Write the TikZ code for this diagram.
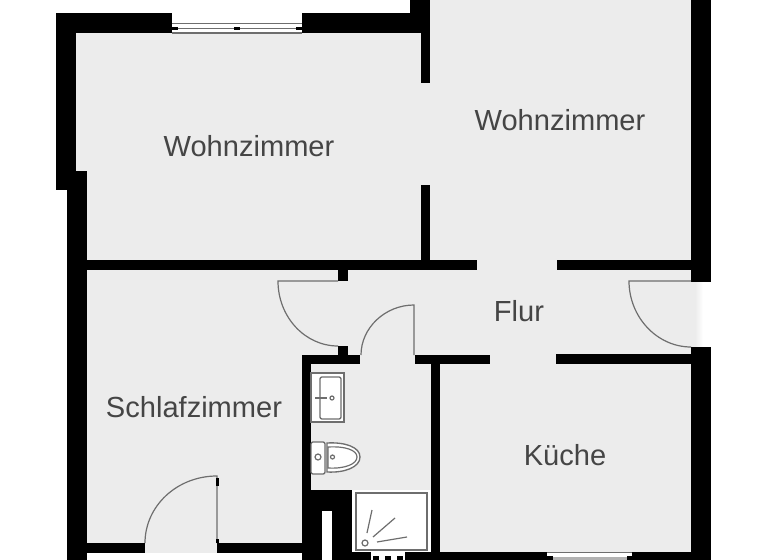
\documentclass[tikz,border=0pt]{standalone}
\usepackage{fontspec}
\setmainfont{Liberation Sans}
\definecolor{floorgray}{HTML}{ECECEC}
\definecolor{labelgray}{HTML}{454545}
\definecolor{linegray}{HTML}{6E6E6E}
\tikzset{
    floor/.style={fill=floorgray},
    wall/.style={fill=black},
    fixture/.style={draw=linegray, line width=1pt, fill=white},
    doorline/.style={draw=linegray, line width=0.9pt},
    roomlabel/.style={text=labelgray, inner sep=0pt, font=\fontsize{21.8}{26}\selectfont}
}
\begin{document}
\begin{tikzpicture}[x=0.75pt, y=-0.75pt]
    \useasboundingbox (0,0) rectangle (768,560);
    \fill[floor] (76,33) rectangle (430,270);
    \fill[floor] (430,0) rectangle (695,282);
    \fill[floor] (87,260) rectangle (302,553);
    \fill[floor] (302,270) rectangle (695,364);
    \fill[floor] (311,364) rectangle (431,490);
    \fill[floor] (440,364) rectangle (691,552);
    \shade[left color=floorgray, right color=white] (695,282) rectangle (703,347);

    \fill[wall] (56,13) rectangle (172,33);
    \fill[wall] (302,13) rectangle (430,33);
    \fill[wall] (410,0) rectangle (430,13);
    \fill[wall] (421,33) rectangle (430,83);
    \fill[wall] (421,185) rectangle (430,265);
    \fill[wall] (56,13) rectangle (76,190);
    \fill[wall] (67,171) rectangle (87,560);
    \fill[wall] (87,260) rectangle (477,270);
    \fill[wall] (338,270) rectangle (348,281);
    \fill[wall] (338,346) rectangle (348,356);
    \fill[wall] (302,355) rectangle (360,364);
    \fill[wall] (415,355) rectangle (490,364);
    \fill[wall] (431,364) rectangle (440,560);
    \fill[wall] (302,355) rectangle (311,560);
    \fill[wall] (311,490) rectangle (352,560);
    \fill[white] (322,511) rectangle (332,560);
    \fill[wall] (87,543) rectangle (145,553);
    \fill[wall] (217,543) rectangle (302,553);
    \fill[wall] (352,552) rectangle (371,560);
    \fill[wall] (405,552) rectangle (547,560);
    \fill[wall] (632,552) rectangle (711,560);
    \fill[wall] (691,0) rectangle (711,282);
    \fill[wall] (691,347) rectangle (711,560);
    \fill[wall] (557,260) rectangle (691,270);
    \fill[wall] (556,354) rectangle (691,364);

    \draw[doorline] (338,281) -- (278,281) .. controls (278,317) and (305,346) .. (338,346);
    \draw[doorline] (414,355) -- (414,305) .. controls (385,305) and (361,328) .. (361,355);
    \draw[doorline] (217,543) -- (217,476) .. controls (177,476) and (145,506) .. (145,543);
    \draw[doorline] (691,281) -- (629,281) .. controls (629,317) and (657,347) .. (691,347);
    \fill[wall] (216,478) rectangle (218.5,486);
    \fill[wall] (216,539) rectangle (218.5,543);

    \draw[doorline] (172,23.5) -- (302,23.5);
    \draw[doorline] (172,28.5) -- (302,28.5);
    \draw[doorline] (172,33) -- (302,33);
    \foreach \wx in {172,234,296} {
        \fill[wall] (\wx,27) rectangle ++(6,3);
    }
    \fill[white] (547,552) rectangle (632,557);
    \fill[gray!60] (547,557) rectangle (632,560);
    \draw[doorline] (547,552.5) -- (632,552.5);
    \fill[wall] (547,556) rectangle (553,560);
    \fill[wall] (627,556) rectangle (632,560);
    \fill[white] (371,552) rectangle (405,560);
    \foreach \wx in {373,385,397} {
        \fill[wall] (\wx,556) rectangle ++(6,4);
    }

    \fill[white] (352,490) rectangle (431,552);
    \draw[doorline] (356,493) rectangle (427,550);
    \draw[doorline] (372,510) -- (367,533);
    \draw[doorline] (395,518) -- (373,537);
    \draw[doorline] (407,537) -- (377,542);
    \draw[doorline] (365,543) circle (3);

    \draw[fixture] (311,373) rectangle (344,422);
    \draw[fixture, rounded corners=1.5pt] (320,377) rectangle (341,419);
    \draw[doorline] (315,398) -- (327,398);
    \draw[doorline] (332,398) circle (2);

    \draw[fixture, rounded corners=1.5pt] (311,442) rectangle (325,474);
    \draw[doorline] (318,457) circle (3);
    \draw[fixture] (327,443) .. controls (345,442) and (360,447) .. (360,457) .. controls (360,467) and (345,473) .. (327,472) -- cycle;
    \draw[doorline] (328,447) .. controls (345,446) and (357,450) .. (357,457) .. controls (357,464) and (345,469) .. (328,468) -- cycle;
    \draw[doorline] (332.5,457) circle (2);

    \node[roomlabel] (wohnzimmerleft) at (249,146) {Wohnzimmer};
    \node[roomlabel] (wohnzimmerright) at (560,120) {Wohnzimmer};
    \node[roomlabel] (flur) at (519,311) {Flur};
    \node[roomlabel] (schlafzimmer) at (194,407) {Schlafzimmer};
    \node[roomlabel] (kueche) at (565,455) {Küche};
\end{tikzpicture}
\end{document}
